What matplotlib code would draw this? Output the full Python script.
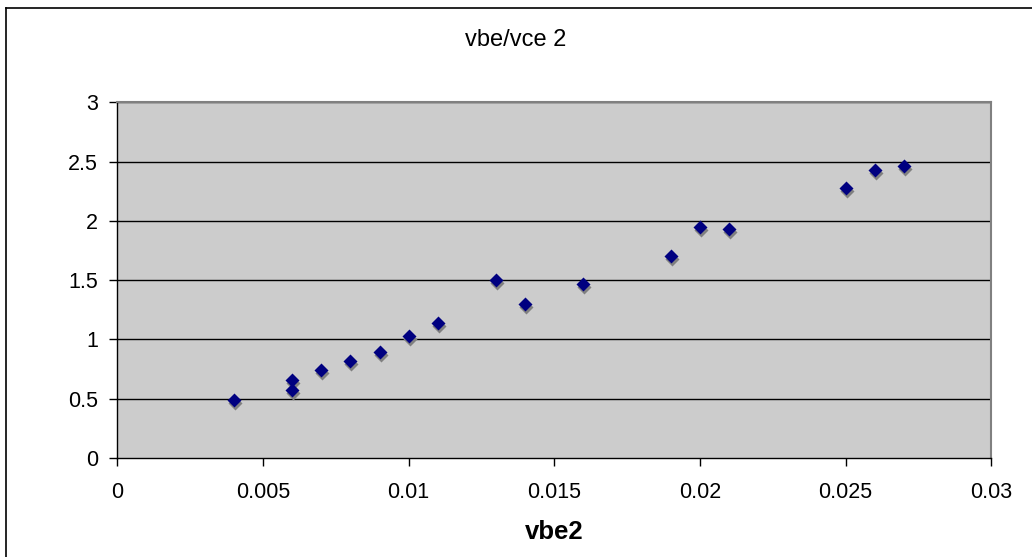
import numpy as np
import matplotlib.pyplot as plt
import matplotlib.transforms as mtransforms
from matplotlib.lines import Line2D

plt.rcParams['font.family'] = ['Liberation Sans', 'DejaVu Sans']

# measured points
vbe2 = [0.004, 0.006, 0.006, 0.007, 0.008, 0.009, 0.010, 0.011, 0.013, 0.014,
        0.016, 0.019, 0.020, 0.021, 0.025, 0.026, 0.027]
ratio = [0.49, 0.66, 0.57, 0.74, 0.82, 0.89, 1.03, 1.14, 1.50, 1.30,
         1.47, 1.70, 1.95, 1.93, 2.28, 2.43, 2.46]

x_ticks = [0, 0.005, 0.01, 0.015, 0.02, 0.025, 0.03]
x_tick_labels = ['0', '0.005', '0.01', '0.015', '0.02', '0.025', '0.03']
y_ticks = [0, 0.5, 1, 1.5, 2, 2.5, 3]
y_tick_labels = ['0', '0.5', '1', '1.5', '2', '2.5', '3']

fig = plt.figure(figsize=(10.32, 5.57), dpi=100)
ax = fig.add_axes([0.1137, 0.1777, 0.8469, 0.6386])
ax.set_facecolor('#cccccc')

# outer chart frame (top and left edges visible)
fig.add_artist(Line2D([6 / 1032, 6 / 1032], [0, 1 - 8 / 557], transform=fig.transFigure,
                      color='black', lw=1.2))
fig.add_artist(Line2D([6 / 1032, 1], [1 - 8 / 557, 1 - 8 / 557], transform=fig.transFigure,
                      color='black', lw=1.2))

for y in y_ticks[1:]:
    ax.axhline(y, color='black', lw=1, zorder=1)

# drop shadow under each marker
shadow = mtransforms.offset_copy(ax.transData, fig=fig, x=1, y=-3, units='dots')
ax.plot(vbe2, ratio, 'D', color='#808080', markersize=6.8, mec='none', transform=shadow, zorder=2)
ax.plot(vbe2, ratio, 'D', color='#000080', markersize=6.8, mec='none', zorder=3)

ax.set_xlim(0, 0.03)
ax.set_ylim(0, 3)
ax.set_xticks(x_ticks)
ax.set_xticklabels(x_tick_labels)
ax.set_yticks(y_ticks)
ax.set_yticklabels(y_tick_labels)
ax.tick_params(axis='both', labelsize=15.5, length=6, width=1, color='black', direction='out')
ax.tick_params(axis='x', pad=11)
ax.tick_params(axis='y', pad=8)

for side in ('top', 'right'):
    ax.spines[side].set_color('#808080')
    ax.spines[side].set_linewidth(1.5)
for side in ('left', 'bottom'):
    ax.spines[side].set_color('black')
    ax.spines[side].set_linewidth(1)

fig.text(0.5, 1 - 40 / 557, 'vbe/vce 2', ha='center', va='center', fontsize=17)
fig.text(0.5 * (0.1137 + 0.9606), 1 - 532 / 557, 'vbe2', ha='center', va='center',
         fontsize=18.5, fontweight='bold')

fig.savefig('out.png', dpi=100)
